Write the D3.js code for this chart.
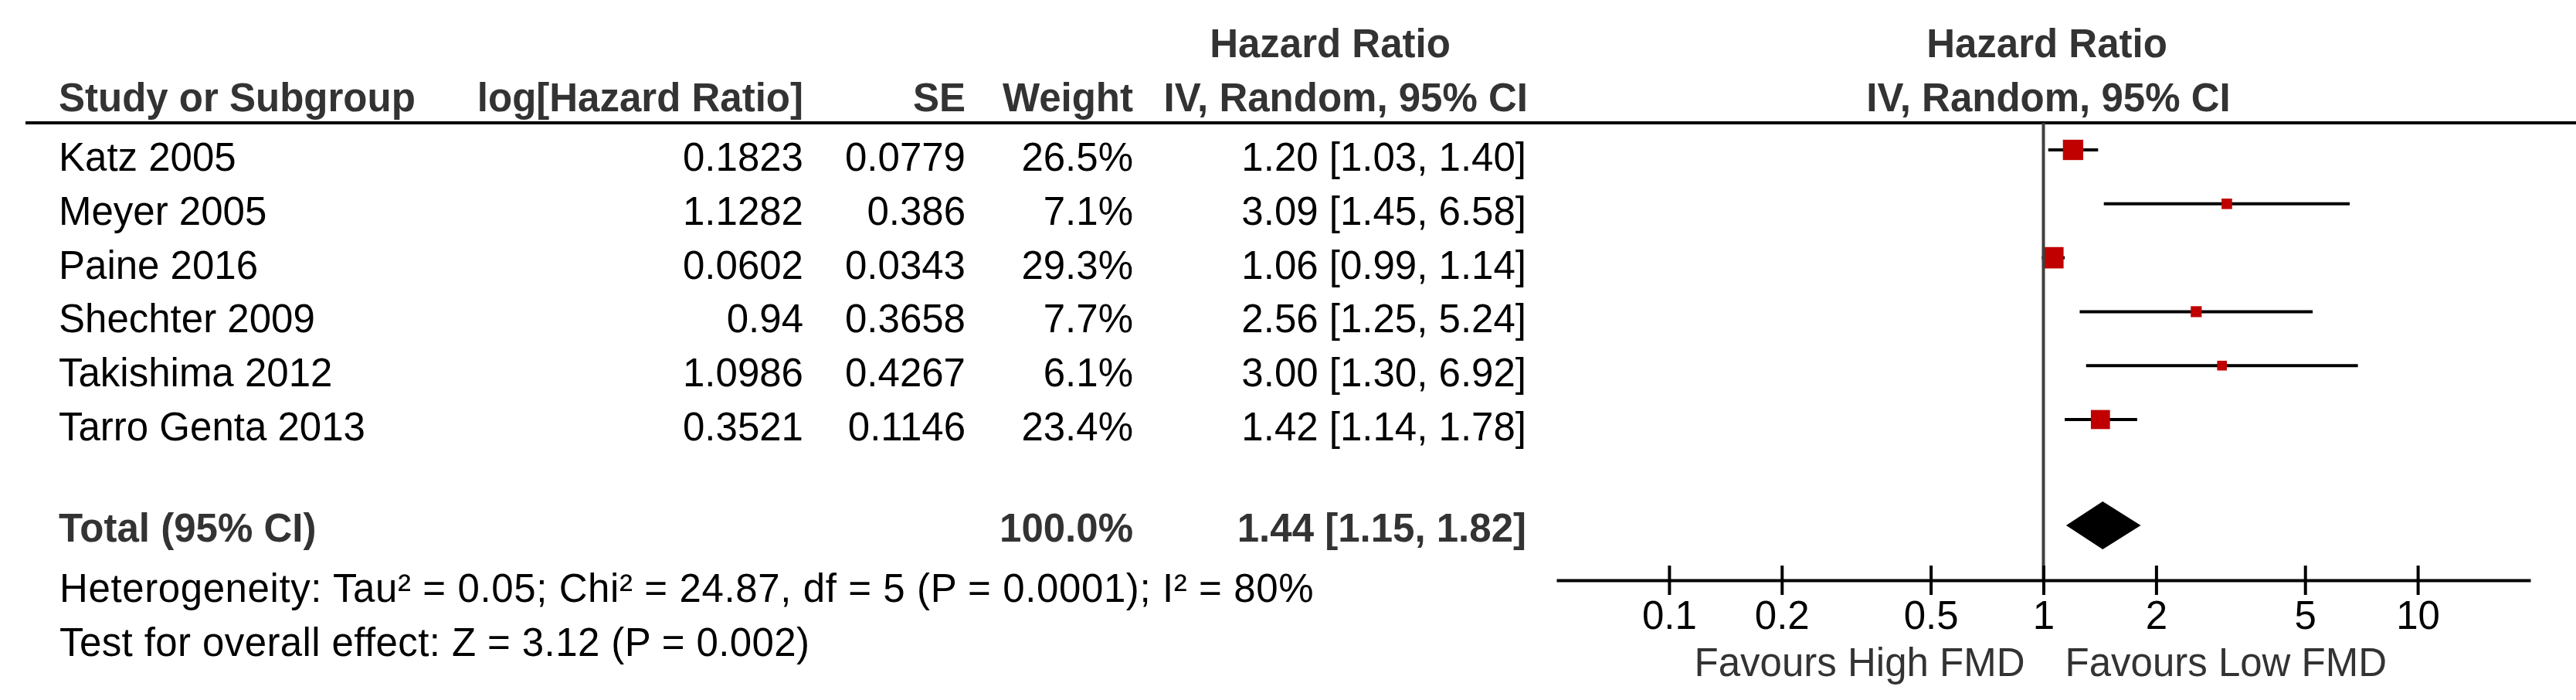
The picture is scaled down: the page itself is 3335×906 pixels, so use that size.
<!DOCTYPE html>
<html>
<head>
<meta charset="utf-8">
<script src="https://cdn.jsdelivr.net/npm/d3@7"></script>
<style>
  body { margin: 0; background: #fff; }
  text { font-family: "Liberation Sans", Arial, sans-serif; }
</style>
</head>
<body>
<div id="chart"></div>
<script>
// study rows
var studies = ["Katz 2005", "Meyer 2005", "Paine 2016", "Shechter 2009", "Takishima 2012", "Tarro Genta 2013"];
var logHR = [0.1823, 1.1282, 0.0602, 0.94, 1.0986, 0.3521];
var se = [0.0779, 0.386, 0.0343, 0.3658, 0.4267, 0.1146];
var weight = [26.5, 7.1, 29.3, 7.7, 6.1, 23.4];
var hr = [1.20, 3.09, 1.06, 2.56, 3.00, 1.42];
var ciLow = [1.03, 1.45, 0.99, 1.25, 1.30, 1.14];
var ciHigh = [1.40, 6.58, 1.14, 5.24, 6.92, 1.78];

// pooled result
var totalWeight = 100.0;
var totalHR = 1.44;
var totalLow = 1.15;
var totalHigh = 1.82;
var hetText = "Heterogeneity: Tau\u00b2 = 0.05; Chi\u00b2 = 24.87, df = 5 (P = 0.0001); I\u00b2 = 80%";
var effectText = "Test for overall effect: Z = 3.12 (P = 0.002)";

// axis
var tickValues = [0.1, 0.2, 0.5, 1, 2, 5, 10];
var axisDomain = [0.05, 20];
var favoursLeft = "Favours High FMD";
var favoursRight = "Favours Low FMD";

let w = 3335;
let h = 906;
var fs = 51;

var svg = d3.select("#chart")
	.append("svg")
	.attr("width", w)
	.attr("height", h);

svg.append("rect").attr("width", w).attr("height", h).attr("fill", "#fff");

var x = d3.scaleLog().domain(axisDomain).range([2015, 3276]);
var y = d3.scaleLinear().domain([0, 5]).range([194, 543]);
var size = d3.scaleSqrt().domain([0, 30]).range([0, 28]);

var totalY = 680;
var axisY = 751;

function txt(px, py, s, anchor, bold, color) {
	return svg.append("text")
		.attr("x", px)
		.attr("y", py)
		.attr("text-anchor", anchor)
		.attr("font-size", fs)
		.attr("font-weight", bold ? "bold" : "normal")
		.attr("fill", color || "#000")
		.text(s);
}

// headers
txt(1722, 74, "Hazard Ratio", "middle", true, "#333");
txt(76, 144, "Study or Subgroup", "start", true, "#333");
txt(1040, 144, "log[Hazard Ratio]", "end", true, "#333");
txt(1250, 144, "SE", "end", true, "#333");
txt(1467, 144, "Weight", "end", true, "#333");
txt(1978, 144, "IV, Random, 95% CI", "end", true, "#333");
txt(2650, 74, "Hazard Ratio", "middle", true, "#333");
txt(2652, 144, "IV, Random, 95% CI", "middle", true, "#333");

svg.append("line")
	.attr("x1", 33).attr("x2", w)
	.attr("y1", 159).attr("y2", 159)
	.attr("stroke", "#000").attr("stroke-width", 4);

// table rows
var rows = svg.selectAll("g.row")
	.data(studies)
	.enter()
		.append("g")
		.attr("class", "row");

rows.append("text").attr("x", 76).attr("text-anchor", "start")
	.text(function(d) {return d});
rows.append("text").attr("x", 1040).attr("text-anchor", "end")
	.text(function(d, i) {return String(logHR[i])});
rows.append("text").attr("x", 1250).attr("text-anchor", "end")
	.text(function(d, i) {return String(se[i])});
rows.append("text").attr("x", 1467).attr("text-anchor", "end")
	.text(function(d, i) {return weight[i].toFixed(1) + "%"});
rows.append("text").attr("x", 1976).attr("text-anchor", "end")
	.text(function(d, i) {return hr[i].toFixed(2) + " [" + ciLow[i].toFixed(2) + ", " + ciHigh[i].toFixed(2) + "]"});
rows.selectAll("text")
	.attr("y", function() {return y(studies.indexOf(d3.select(this.parentNode).datum())) + 27})
	.attr("font-size", fs)
	.attr("fill", "#000");

// total row
txt(76, 701, "Total (95% CI)", "start", true, "#333");
txt(1467, 701, totalWeight.toFixed(1) + "%", "end", true, "#333");
txt(1976, 701, totalHR.toFixed(2) + " [" + totalLow.toFixed(2) + ", " + totalHigh.toFixed(2) + "]", "end", true, "#333");
txt(77, 779, hetText, "start", false, "#000").attr("letter-spacing", 0.6);
txt(77, 849, effectText, "start", false, "#000").attr("letter-spacing", 0.4);

// line of no effect
svg.append("line")
	.attr("x1", x(1)).attr("x2", x(1))
	.attr("y1", 159).attr("y2", axisY)
	.attr("stroke", "#404040").attr("stroke-width", 4);

// CI lines
rows.append("line")
	.attr("x1", function(d, i) {return x(ciLow[i])})
	.attr("x2", function(d, i) {return x(ciHigh[i])})
	.attr("y1", function(d, i) {return y(i)})
	.attr("y2", function(d, i) {return y(i)})
	.attr("stroke", "#000")
	.attr("stroke-width", 4);

// squares
rows.append("rect")
	.attr("x", function(d, i) {return x(hr[i]) - size(weight[i]) / 2})
	.attr("y", function(d, i) {return y(i) - size(weight[i]) / 2})
	.attr("width", function(d, i) {return size(weight[i])})
	.attr("height", function(d, i) {return size(weight[i])})
	.attr("fill", "#c00000");

// diamond
svg.append("path")
	.attr("d", "M" + x(totalLow) + "," + totalY +
		"L" + x(totalHR) + "," + (totalY - 31) +
		"L" + x(totalHigh) + "," + totalY +
		"L" + x(totalHR) + "," + (totalY + 31) + "Z")
	.attr("fill", "#000");

// axis
var axis = svg.append("g")
	.attr("transform", "translate(0," + axisY + ")")
	.call(d3.axisBottom(x)
		.tickValues(tickValues)
		.tickFormat(function(d) {return String(d)})
		.tickSizeOuter(0));

axis.select(".domain").attr("stroke", "#000").attr("stroke-width", 4);
axis.selectAll(".tick line")
	.attr("y1", -19).attr("y2", 19)
	.attr("stroke", "#000").attr("stroke-width", 4);
axis.selectAll(".tick text")
	.attr("y", 63).attr("dy", null)
	.attr("font-size", fs)
	.attr("font-family", "'Liberation Sans', Arial, sans-serif")
	.attr("fill", "#000");

txt(x(1) - 24, 875, favoursLeft, "end", false, "#333");
txt(x(1) + 28, 875, favoursRight, "start", false, "#333");
</script>
</body>
</html>
